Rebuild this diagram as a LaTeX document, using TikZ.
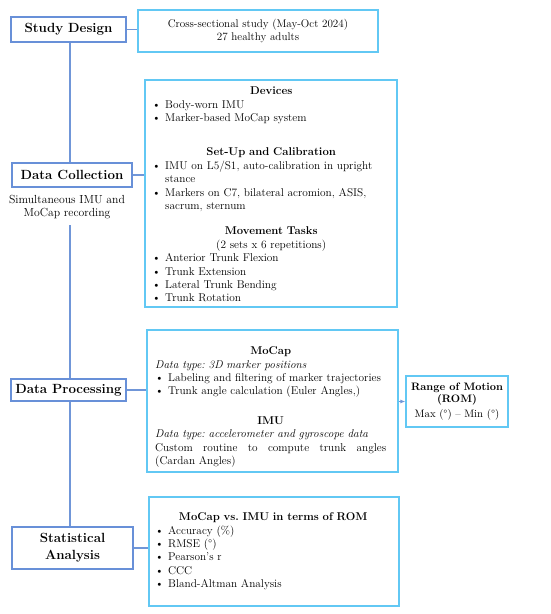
\documentclass[tikz,border=0pt]{standalone}
\usetikzlibrary{arrows.meta}
\definecolor{leftblue}{RGB}{104,144,216}
\definecolor{skyblue}{RGB}{98,200,244}
\definecolor{linkblue}{RGB}{112,150,216}
\frenchspacing
\newcommand{\bitem}[1]{\par\hangindent=13pt\hangafter=1\noindent\makebox[13pt][l]{\textbullet}#1}
\newcommand{\ctitle}[1]{\par\noindent\makebox[\linewidth][c]{\bfseries #1}}
\begin{document}
\begin{tikzpicture}[x=1pt,y=-1pt,
  leftbox/.style={draw=leftblue,line width=1.3pt,fill=white,inner sep=0pt,font=\fontsize{13.3}{16}\selectfont\bfseries,align=center},
  rightbox/.style={draw=skyblue,line width=1.3pt,fill=white,inner sep=0pt},
  content/.style={inner sep=0pt,anchor=north west,font=\fontsize{11.3}{13.4}\selectfont,align=left},
  link/.style={draw=linkblue,line width=1.1pt}]
\useasboundingbox (0,0) rectangle (550,614);
\fill[white] (0,0) rectangle (550,614);
\coordinate (gap) at (70,225);

% left column boxes
\node[leftbox,minimum width=115pt,minimum height=25pt] (sd) at (68.5,29.5) {Study Design};
\node[leftbox,minimum width=120pt,minimum height=24pt] (dc) at (72,175) {Data Collection};
\node[inner sep=0pt,align=center,font=\fontsize{11.7}{13.5}\selectfont] (dcsub) at (67,207) {Simultaneous IMU and\\MoCap recording};
\node[leftbox,minimum width=115pt,minimum height=22pt] (dp) at (68.5,390) {Data Processing};
\node[leftbox,minimum width=121pt,minimum height=42pt,font=\fontsize{13.3}{17}\selectfont\bfseries] (sa) at (72.5,548) {Statistical\\Analysis};

% right boxes
\node[rightbox,minimum width=240pt,minimum height=42pt,align=center,font=\fontsize{11.1}{13.4}\selectfont] (design) at (258,31) {Cross-sectional study (May-Oct 2024)\\27 healthy adults};

\node[rightbox,minimum width=252pt,minimum height=227pt] (coll) at (271,193.5) {};
\node[content,text width=238pt] (colltext) at (152,81) {%
\ctitle{Devices}
\bitem{Body-worn IMU}
\bitem{Marker-based MoCap system}
\par\vspace{21pt}
\ctitle{Set-Up and Calibration}
\bitem{IMU on L5/S1, auto-calibration in upright stance}
\bitem{Markers on C7, bilateral acromion, ASIS, sacrum, sternum}
\par\vspace{12pt}
\ctitle{Movement Tasks}
\par\noindent\makebox[\linewidth][c]{(2 sets x 6 repetitions)}
\bitem{Anterior Trunk Flexion}
\bitem{Trunk Extension}
\bitem{Lateral Trunk Bending}
\bitem{Trunk Rotation}};

\node[rightbox,minimum width=251pt,minimum height=142pt] (proc) at (272.5,401) {};
\node[content,text width=231pt] (proctext) at (155,341) {%
\ctitle{MoCap}
\par\noindent\textit{Data type: 3D marker positions}
\bitem{Labeling and filtering of marker trajectories}
\bitem{Trunk angle calculation (Euler Angles,)}
\par\vspace{16pt}
\ctitle{IMU}
\par\noindent\textit{Data type: accelerometer and gyroscope data}
\par\noindent\hbox to\hsize{Custom\hfill routine\hfill to\hfill compute\hfill trunk\hfill angles}
\par\noindent(Cardan Angles)};

\node[rightbox,minimum width=102pt,minimum height=51pt,align=center,font=\fontsize{10.8}{12.5}\selectfont] (rom) at (457,401.5) {\textbf{Range of Motion}\\\textbf{(ROM)}\\[2pt]Max (\textdegree) -- Min (\textdegree)};

\node[rightbox,minimum width=250pt,minimum height=109pt] (stat) at (274,551.5) {};
\node[content,text width=236pt] (stattext) at (155,507) {%
\ctitle{MoCap vs. IMU in terms of ROM}
\bitem{Accuracy (\%)}
\bitem{RMSE (\textdegree)}
\bitem{Pearson's r}
\bitem{CCC}
\bitem{Bland-Altman Analysis}};

% connectors
\draw[link] (sd.east) -- (design.west |- sd.east);
\draw[link] (dc.east) -- (coll.west |- dc.east);
\draw[link] (dp.east) -- (proc.west |- dp.east);
\draw[link] (sa.east) -- (stat.west |- sa.east);
\draw[link,-{Latex[length=5pt,width=4pt]}] (proc.east |- rom.west) -- (rom.west);
\draw[link] (sd.south -| gap) -- (dc.north -| gap);
\draw[link] (gap) -- (dp.north -| gap);
\draw[link] (dp.south -| gap) -- (sa.north -| gap);
\end{tikzpicture}
\end{document}
